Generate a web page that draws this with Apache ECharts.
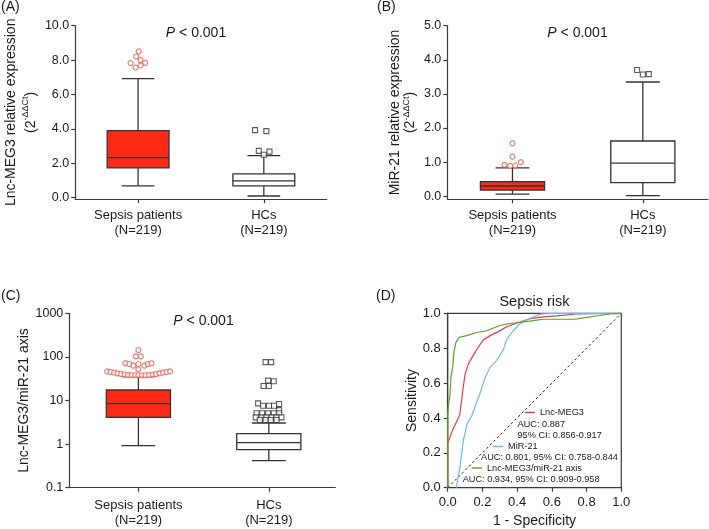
<!DOCTYPE html>
<html><head><meta charset="utf-8">
<script src="https://cdn.jsdelivr.net/npm/echarts@6/dist/echarts.min.js"></script>
<style>html,body{margin:0;padding:0;background:#fff}#c{width:709px;height:529px}</style>
</head><body><div id="c"></div>
<script>
// ---------- data ----------
const groups = ['Sepsis patients\n(N=219)', 'HCs\n(N=219)'];
// box stats: [lower whisker, Q1, median, Q3, upper whisker]
const meg3Sepsis = [0.69, 1.73, 2.33, 3.90, 6.92];
const meg3HC = [0.10, 0.69, 0.98, 1.39, 2.45];
const meg3SepsisOut = [8.50, 8.21, 8.00, 7.83, 7.84, 7.57, 7.69];
const meg3HCOut = [3.93, 3.87, 2.72, 2.50, 2.68];

const mir21Sepsis = [0.06, 0.18, 0.30, 0.43, 0.83];
const mir21HC = [0.02, 0.40, 0.97, 1.62, 3.35];
const mir21SepsisOut = [1.55, 1.16, 0.92, 0.89, 0.90, 1.00];
const mir21HCOut = [3.70, 3.57, 3.58];

const axisSepsis = [0.92, 4.1, 8.45, 17.4, 35.2];
const axisHC = [0.42, 0.745, 1.08, 1.73, 3.05];
const axisSepsisOut = [144, 103, 103, 72, 68.7, 63, 68.7, 63, 68.7, 71.5, 52,
  46.5, 45, 43.5, 42, 40.5, 39.5, 38.5, 38, 37.8, 37.8, 37.8, 38, 38.5, 39.5, 40.5, 42, 43.5, 45, 46.5];
const axisHCOut = [76, 76, 28.5, 27.6, 21.5, 21.5, 8.6, 7.6, 7.6, 7.6, 8.3, 6.0,
  5.1, 5.1, 5.1, 5.1, 5.1, 4.1, 4.1, 4.1, 4.1, 4.1, 4.1, 3.57, 3.57, 3.57, 3.57];

const yTicksA = [0, 2, 4, 6, 8, 10];
const yTicksB = [0, 1, 2, 3, 4, 5];
const pText = 'P < 0.001';

// ROC curves [1 - specificity, sensitivity]
const rocMEG3 = [[0,0],[0,0.255],[0.013,0.29],[0.032,0.34],[0.052,0.38],[0.07,0.42],[0.08,0.5],[0.09,0.58],[0.1,0.65],[0.119,0.71],[0.148,0.76],[0.177,0.808],[0.205,0.847],[0.244,0.872],[0.292,0.895],[0.34,0.923],[0.417,0.95],[0.475,0.97],[0.55,0.98],[0.63,0.985],[0.74,0.996],[1,1]];
const rocMiR21 = [[0.05,0],[0.06,0.06],[0.071,0.12],[0.09,0.27],[0.113,0.37],[0.138,0.41],[0.163,0.48],[0.186,0.54],[0.215,0.63],[0.244,0.69],[0.282,0.73],[0.32,0.79],[0.34,0.85],[0.378,0.9],[0.416,0.94],[0.474,0.97],[0.532,0.995],[0.6,1],[1,1]];
const rocAxis = [[0,0],[0,0.42],[0.004,0.47],[0.013,0.53],[0.019,0.64],[0.029,0.69],[0.036,0.78],[0.048,0.835],[0.067,0.862],[0.109,0.872],[0.167,0.89],[0.225,0.9],[0.3,0.93],[0.35,0.94],[0.436,0.95],[0.493,0.958],[0.55,0.966],[0.733,0.966],[0.8,0.977],[0.868,0.986],[0.93,0.996],[1,1]];
const rocNames = ['Lnc-MEG3', 'MiR-21', 'Lnc-MEG3/miR-21 axis'];
const aucTexts = ['AUC: 0.887', '95% CI: 0.856-0.917', 'AUC: 0.801, 95% CI: 0.758-0.844', 'AUC: 0.934, 95% CI: 0.909-0.958'];

// ---------- layout helpers (horizontal jitter of outlier points, in category units) ----------
const groupPos = [0, 1];
const jitMeg3S = [0.005, -0.015, 0.02, -0.06, 0.056, -0.02, 0.02];
const jitMeg3H = [-0.07, 0.02, -0.04, 0, 0.045];
const jitMirS = [0, 0, -0.061, -0.018, 0.021, 0.064];
const jitMirH = [-0.044, 0, 0.046];
const jitAxS = [0, -0.02, 0.018, -0.1, -0.069, -0.038, 0, 0.046, 0.072, 0.1, 0,
  -0.24, -0.213, -0.186, -0.159, -0.132, -0.106, -0.079, -0.052, -0.025, 0, 0.028, 0.055, 0.082, 0.109, 0.135, 0.162, 0.189, 0.216, 0.243];
const jitAxH = [-0.025, 0.018, -0.005, 0.038, -0.04, 0, -0.082, -0.044, 0.002, 0.04, 0.079, 0.079,
  -0.094, -0.051, -0.005, 0.038, 0.079, -0.1, -0.056, -0.018, 0.021, 0.059, 0.097, -0.069, -0.025, 0.015, 0.059];

const FF = '"Liberation Sans", Arial, sans-serif';
const AX = '#3a3a3a';
const TXT = '#1a1a1a';
const RED = '#ff2a14';
const OUTRED = '#e8574f';

function boxRender(params, api) {
  const x = api.value(0);
  const v = [1, 2, 3, 4, 5].map(i => api.value(i));
  const p = v.map(val => api.coord([x, val]));
  const cx = p[0][0];
  const unit = api.coord([x + 1, v[2]])[0] - cx;
  const hw = unit * 0.246, cw = unit * 0.13;
  const ls = { stroke: '#333', lineWidth: 1.3, fill: null };
  return { type: 'group', children: [
    { type: 'line', shape: { x1: cx, y1: p[0][1], x2: cx, y2: p[1][1] }, style: ls },
    { type: 'line', shape: { x1: cx, y1: p[3][1], x2: cx, y2: p[4][1] }, style: ls },
    { type: 'line', shape: { x1: cx - cw, y1: p[0][1], x2: cx + cw, y2: p[0][1] }, style: ls },
    { type: 'line', shape: { x1: cx - cw, y1: p[4][1], x2: cx + cw, y2: p[4][1] }, style: ls },
    { type: 'rect', shape: { x: cx - hw, y: p[3][1], width: 2 * hw, height: p[1][1] - p[3][1] },
      style: { fill: api.visual('color'), stroke: '#333', lineWidth: 1.3 } },
    { type: 'line', shape: { x1: cx - hw, y1: p[2][1], x2: cx + hw, y2: p[2][1] }, style: ls }
  ] };
}

function catAxis(gi, min, max, margin) {
  return { gridIndex: gi, type: 'value', min, max,
    axisLine: { show: true, onZero: false, lineStyle: { color: AX, width: 1.2 } },
    axisTick: { show: true, length: 4, customValues: groupPos, lineStyle: { color: AX, width: 1.2 } },
    axisLabel: { customValues: groupPos, formatter: v => groups[Math.round(v)] || '',
      fontSize: 13, lineHeight: 15, color: TXT, margin: margin, fontFamily: FF },
    splitLine: { show: false } };
}
function valAxis(gi, min, max, ticks, name, gap, lh) {
  return { gridIndex: gi, type: 'value', min, max,
    axisLine: { show: true, onZero: false, lineStyle: { color: AX, width: 1.2 } },
    axisTick: { show: true, length: 4, customValues: ticks, lineStyle: { color: AX, width: 1.2 } },
    axisLabel: { customValues: ticks, formatter: v => v.toFixed(1), fontSize: 12.5, color: TXT, margin: 6, fontFamily: FF },
    splitLine: { show: false },
    name: '{t|' + name + '}\n{t|(2}{s|-ΔΔCt}{t|)}', nameLocation: 'middle', nameRotate: 90, nameGap: gap,
    nameTextStyle: { color: TXT, fontFamily: FF, fontSize: 14, lineHeight: lh,
      rich: { t: { fontSize: 14, lineHeight: lh, fontFamily: FF, color: TXT },
              s: { fontSize: 9, lineHeight: lh, verticalAlign: 'top', fontFamily: FF, color: TXT } } } };
}
function boxSeries(xi, s, h) {
  return { type: 'custom', xAxisIndex: xi, yAxisIndex: xi, renderItem: boxRender,
    encode: { x: 0, y: [1, 2, 3, 4, 5] }, silent: true,
    data: [ { value: [groupPos[0]].concat(s), itemStyle: { color: RED } },
            { value: [groupPos[1]].concat(h), itemStyle: { color: '#ffffff' } } ] };
}
function outSeries(xi, vals, jit, gp, red) {
  return { type: 'scatter', xAxisIndex: xi, yAxisIndex: xi, silent: true,
    symbol: red ? 'circle' : 'rect', symbolSize: 5,
    itemStyle: { color: '#fff', borderColor: red ? OUTRED : '#333', borderWidth: 1.1 },
    data: vals.map((v, i) => [gp + jit[i], v]) };
}

const chart = echarts.init(document.getElementById('c'), null, { renderer: 'canvas' });
const lineCol = { red: '#e33b4a', blue: '#67bfeb', green: '#5b9f2c' };
const pStyle = { fontSize: 14, fontWeight: 'normal', color: TXT, fontFamily: FF,
  rich: { i: { fontStyle: 'italic', fontSize: 14, fontFamily: FF, color: TXT }, n: { fontSize: 14, fontFamily: FF, color: TXT } } };
const pRich = '{i|' + pText.slice(0, 1) + '}{n|' + pText.slice(1) + '}';

const option = {
  animation: false,
  textStyle: { fontFamily: FF },
  grid: [
    { left: 66, top: 25.7, width: 260.7, height: 173.3 },
    { left: 447.3, top: 25.7, width: 260.7, height: 173.6 },
    { left: 69.3, top: 313.3, width: 266, height: 174.4 },
    { left: 447.7, top: 313.3, width: 173.6, height: 174.4, show: true, borderColor: AX, borderWidth: 1.2 }
  ],
  xAxis: [
    catAxis(0, -0.5, 1.5, 9),
    catAxis(1, -0.5, 1.5, 9),
    catAxis(2, -0.53, 1.51, 10),
    { gridIndex: 3, type: 'value', min: 0, max: 1, interval: 0.2,
      axisLine: { show: true, onZero: false, lineStyle: { color: AX, width: 1.2 } },
      axisTick: { show: true, length: 4, lineStyle: { color: AX, width: 1.2 } },
      axisLabel: { formatter: v => v.toFixed(1), fontSize: 13, color: TXT, margin: 8, fontFamily: FF },
      splitLine: { show: false },
      name: '1 - Specificity', nameLocation: 'middle', nameGap: 26,
      nameTextStyle: { fontSize: 14, color: TXT, fontFamily: FF } }
  ],
  yAxis: [
    valAxis(0, -0.075, 10, yTicksA, 'Lnc-MEG3 relative expression', 28, 20),
    valAxis(1, -0.09, 5, yTicksB, 'MiR-21 relative expression', 30, 15),
    { gridIndex: 2, type: 'log', logBase: 10, min: 0.1, max: 1000,
      axisLine: { show: true, onZero: false, lineStyle: { color: AX, width: 1.2 } },
      axisTick: { show: true, length: 4, lineStyle: { color: AX, width: 1.2 } },
      minorTick: { show: false },
      axisLabel: { formatter: v => String(+(+v).toPrecision(3)), fontSize: 12.5, color: TXT, margin: 6, fontFamily: FF },
      splitLine: { show: false },
      name: 'Lnc-MEG3/miR-21 axis', nameLocation: 'middle', nameRotate: 90, nameGap: 32,
      nameTextStyle: { fontSize: 14, color: TXT, fontFamily: FF } },
    { gridIndex: 3, type: 'value', min: 0, max: 1, interval: 0.2,
      axisLine: { show: true, onZero: false, lineStyle: { color: AX, width: 1.2 } },
      axisTick: { show: true, length: 4, lineStyle: { color: AX, width: 1.2 } },
      axisLabel: { formatter: v => v.toFixed(1), fontSize: 13, color: TXT, margin: 7, fontFamily: FF },
      splitLine: { show: false },
      name: 'Sensitivity', nameLocation: 'middle', nameRotate: 90, nameGap: 29,
      nameTextStyle: { fontSize: 14, color: TXT, fontFamily: FF } }
  ],
  title: [
    { text: pRich, left: 196, top: 26, textAlign: 'center', padding: 0, textStyle: pStyle },
    { text: pRich, left: 577.5, top: 26, textAlign: 'center', padding: 0, textStyle: pStyle },
    { text: pRich, left: 203.5, top: 314, textAlign: 'center', padding: 0, textStyle: pStyle },
    { text: 'Sepsis risk', left: 534.5, top: 294, textAlign: 'center', padding: 0,
      textStyle: { fontSize: 14.5, fontWeight: 'normal', color: TXT, fontFamily: FF } }
  ],
  legend: [
    { data: [rocNames[0]], left: 525, top: 408 },
    { data: [rocNames[1]], left: 493, top: 442 },
    { data: [rocNames[2]], left: 472, top: 463.5 }
  ].map(l => Object.assign(l, { orient: 'horizontal', padding: 0, itemWidth: 10, itemHeight: 1.4, itemGap: 0,
      icon: 'rect', selectedMode: false, textStyle: { fontSize: 9.2, color: TXT, fontFamily: FF } })),
  graphic: [
    { type: 'text', x: 1, y: 0, style: { text: '(A)', font: '14px ' + FF, fill: TXT } },
    { type: 'text', x: 377, y: 0, style: { text: '(B)', font: '14px ' + FF, fill: TXT } },
    { type: 'text', x: 1, y: 289, style: { text: '(C)', font: '14px ' + FF, fill: TXT } },
    { type: 'text', x: 376, y: 289, style: { text: '(D)', font: '14px ' + FF, fill: TXT } },
    { type: 'text', x: 517.5, y: 419.5, style: { text: aucTexts[0], font: '9.2px ' + FF, fill: TXT } },
    { type: 'text', x: 517.5, y: 430.5, style: { text: aucTexts[1], font: '9.2px ' + FF, fill: TXT } },
    { type: 'text', x: 481, y: 452.7, style: { text: aucTexts[2], font: '9.2px ' + FF, fill: TXT } },
    { type: 'text', x: 462.7, y: 475, style: { text: aucTexts[3], font: '9.2px ' + FF, fill: TXT } }
  ],
  series: [
    boxSeries(0, meg3Sepsis, meg3HC),
    outSeries(0, meg3SepsisOut, jitMeg3S, groupPos[0], true),
    outSeries(0, meg3HCOut, jitMeg3H, groupPos[1], false),
    boxSeries(1, mir21Sepsis, mir21HC),
    outSeries(1, mir21SepsisOut, jitMirS, groupPos[0], true),
    outSeries(1, mir21HCOut, jitMirH, groupPos[1], false),
    boxSeries(2, axisSepsis, axisHC),
    outSeries(2, axisSepsisOut, jitAxS, groupPos[0], true),
    outSeries(2, axisHCOut, jitAxH, groupPos[1], false),
    { type: 'line', xAxisIndex: 3, yAxisIndex: 3, data: [[0, 0], [1, 1]], symbol: 'none', silent: true,
      lineStyle: { color: '#222', width: 1, type: [2.5, 2.5] } },
    { name: rocNames[0], type: 'line', xAxisIndex: 3, yAxisIndex: 3, data: rocMEG3, symbol: 'none', silent: true,
      color: lineCol.red, lineStyle: { color: lineCol.red, width: 1.2 } },
    { name: rocNames[1], type: 'line', xAxisIndex: 3, yAxisIndex: 3, data: rocMiR21, symbol: 'none', silent: true,
      color: lineCol.blue, lineStyle: { color: lineCol.blue, width: 1.2 } },
    { name: rocNames[2], type: 'line', xAxisIndex: 3, yAxisIndex: 3, data: rocAxis, symbol: 'none', silent: true,
      color: lineCol.green, lineStyle: { color: lineCol.green, width: 1.2 } }
  ]
};
chart.setOption(option);
</script></body></html>
